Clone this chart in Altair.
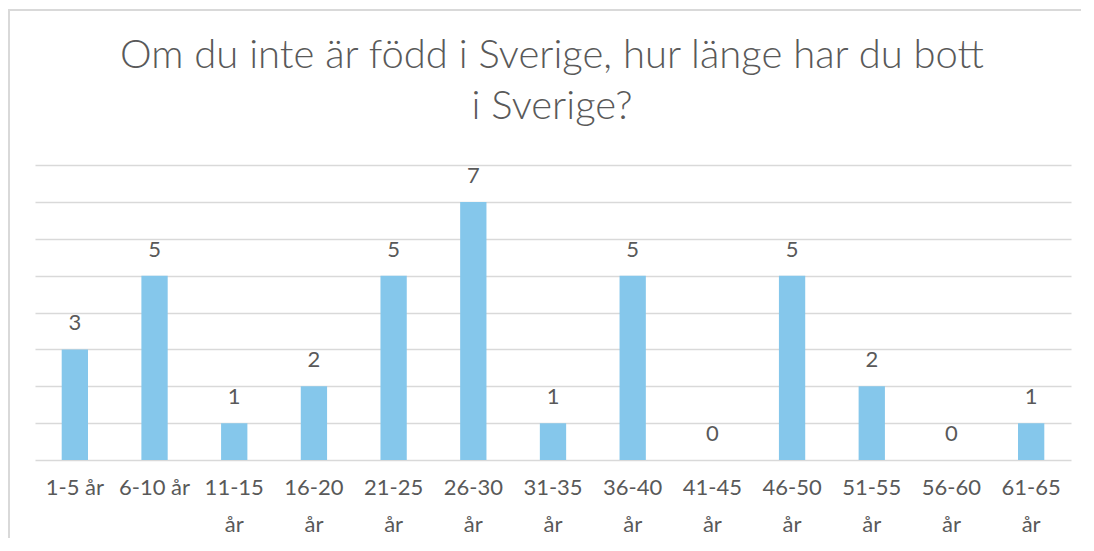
import altair as alt
import pandas as pd

categories = ["1-5 år", "6-10 år", "11-15 år", "16-20 år", "21-25 år", "26-30 år",
              "31-35 år", "36-40 år", "41-45 år", "46-50 år", "51-55 år", "56-60 år", "61-65 år"]
counts = [3, 5, 1, 2, 5, 7, 1, 5, 0, 5, 2, 0, 1]
title_lines = ["Om du inte är född i Sverige, hur länge har du bott", "i Sverige?"]

df = pd.DataFrame({"cat": categories, "n": counts})

FONT = "Lato"
GREY = "#595959"
W, H = 1036, 295
PAD_R, PAD_B = 10, 78

x = alt.X("cat:N", sort=categories,
          scale=alt.Scale(paddingInner=0.67, paddingOuter=0.335),
          axis=alt.Axis(title=None, domain=False, ticks=False, labelAngle=0,
                        labelFont=FONT, labelFontSize=22, labelColor=GREY,
                        labelPadding=17, labelLineHeight=37, labelBaseline="top",
                        labelExpr="length(datum.label) > 7 ? split(datum.label, ' ') : datum.label"))
y = alt.Y("n:Q", scale=alt.Scale(domain=[0, 8], nice=False),
          axis=alt.Axis(title=None, labels=False, ticks=False, domain=False,
                        values=list(range(0, 9)),
                        gridColor="#D9D9D9", gridWidth=1.5))

one = pd.DataFrame({"a": [0]})
top_edge = alt.Chart(one).mark_rule(stroke="#D9D9D9", strokeWidth=2).encode(
    x=alt.value(-26), x2=alt.value(W + PAD_R), y=alt.value(-155))
left_edge = alt.Chart(one).mark_rule(stroke="#D9D9D9", strokeWidth=2).encode(
    x=alt.value(-26), y=alt.value(-156), y2=alt.value(H + PAD_B))

title = alt.Chart(one).mark_text(
    text=title_lines, font=FONT, fontSize=40, fontWeight=300, color=GREY,
    lineHeight=51, align="center", baseline="alphabetic"
).encode(x=alt.value(W / 2 - 1), y=alt.value(-97))

bars = alt.Chart(df).mark_bar(color="#85C7EB").encode(x=x, y=y)
labels = alt.Chart(df).mark_text(font=FONT, fontSize=22, color=GREY,
                                 baseline="alphabetic", dy=-19).encode(
    x=x, y=y, text="n:Q")

chart = alt.layer(top_edge, left_edge, title, bars, labels).properties(
    width=W, height=H,
    autosize=alt.AutoSizeParams(type="none"),
    padding={"left": 27, "top": 157, "right": PAD_R, "bottom": PAD_B},
    background="transparent",
).configure_view(stroke=None)

chart.save("out.html", embed_options={"renderer": "svg", "actions": False})
